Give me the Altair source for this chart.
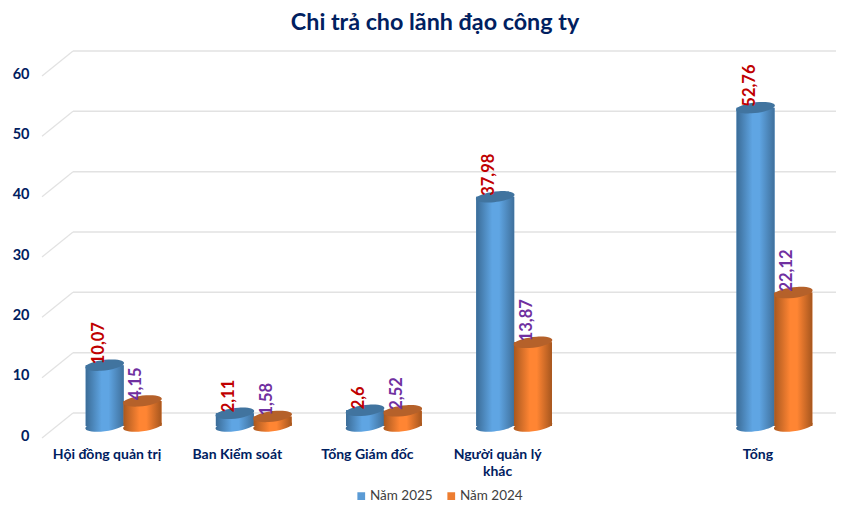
import altair as alt
import pandas as pd

categories = ["Hội đồng quản trị", "Ban Kiểm soát", "Tổng Giám đốc", "Người quản lý khác", "Tổng"]
x_domain = ["Hội đồng quản trị", "Ban Kiểm soát", "Tổng Giám đốc", "Người quản lý khác", " ", "Tổng"]
series_names = ["Năm 2025", "Năm 2024"]
values_2025 = [10.07, 2.11, 2.6, 37.98, 52.76]
values_2024 = [4.15, 1.58, 2.52, 13.87, 22.12]
y_ticks = [0, 10, 20, 30, 40, 50, 60]

rows = []
for name, vals in zip(series_names, [values_2025, values_2024]):
    for c, v in zip(categories, vals):
        rows.append({"cat": c, "series": name, "value": v, "zero": 0,
                     "label": str(v).replace(".", ",")})
df = pd.DataFrame(rows)
grid = pd.DataFrame({"v": y_ticks})

NAVY = "#002060"
FONT = "Lato"
ELLIPSE = "M -1 0.06 A 1 0.27 -7 1 1 1 -0.06 A 1 0.27 -7 1 1 -1 0.06 Z"
SIZE = 38 ** 2

y_scale = alt.Scale(domain=[0, 60], nice=False)
y_axis = alt.Axis(title=None, values=y_ticks, grid=False, domain=False, ticks=False,
                  labelFont=FONT, labelFontWeight="bold", labelFontSize=14.5, labelColor=NAVY,
                  labelPadding=29.5, labelOffset=10, format="d")
x_enc = alt.X("cat:N", scale=alt.Scale(domain=x_domain, paddingInner=0.42, paddingOuter=0.21),
              sort=x_domain,
              axis=alt.Axis(title=None, domain=False, ticks=False, labelAngle=0, labelPadding=21,
                            labelOffset=-16.5, labelFont=FONT, labelFontWeight="bold", labelFontSize=14,
                            labelColor=NAVY, labelLimit=200, labelLineHeight=17,
                            labelExpr="datum.label == 'Người quản lý khác' ? ['Người quản lý', 'khác'] : datum.label"))
xo = alt.XOffset("series:N", scale=alt.Scale(domain=series_names), sort=series_names)
y_enc = alt.Y("value:Q", scale=y_scale, axis=y_axis)


def grad(edge_l, mid, edge_r):
    return alt.Gradient(gradient="linear", x1=0, x2=1, y1=0, y2=0,
                        stops=[alt.GradientStop(color=edge_l, offset=0),
                               alt.GradientStop(color=mid, offset=0.42),
                               alt.GradientStop(color=mid, offset=0.6),
                               alt.GradientStop(color=edge_r, offset=1)])


grid_rules = alt.Chart(grid).mark_rule(color="#e2e2e2", strokeWidth=1.5, yOffset=-13).encode(
    y=alt.Y("v:Q", scale=y_scale, axis=y_axis),
    x=alt.value(14.5), x2=alt.value(778))
grid_diag = alt.Chart(grid).mark_rule(color="#e2e2e2", strokeWidth=1.2, yOffset=12, y2Offset=-13).encode(
    y=alt.Y("v:Q", scale=y_scale, axis=y_axis),
    y2="v:Q",
    x=alt.value(-16.5), x2=alt.value(14.5))

base = alt.Chart(df)
legend_bars = base.mark_bar(size=38).encode(
    x=x_enc, xOffset=xo, y=y_enc,
    color=alt.Color("series:N",
                    scale=alt.Scale(domain=series_names, range=["#5b9bd5", "#ed7d31"]),
                    legend=alt.Legend(title=None, orient="none", legendX=296, legendY=425,
                                      direction="horizontal", symbolType="square", symbolSize=60,
                                      labelOffset=2, labelFont=FONT, labelFontSize=13.5, labelColor="#404040",
                                      columnPadding=11, symbolOpacity=1)))

styles = {
    "Năm 2025": dict(body=grad("#3b6c97", "#5fa5e3", "#3f709c"), top="#41749f"),
    "Năm 2024": dict(body=grad("#a9581f", "#ff8533", "#a6561e"), top="#b5612a"),
}

layers = [grid_rules, grid_diag, legend_bars]
for name in series_names:
    st = styles[name]
    sub = base.transform_filter(alt.datum.series == name)
    layers.append(sub.mark_point(shape=ELLIPSE, size=SIZE, filled=True, opacity=1, fill=st["body"], strokeWidth=0).encode(
        x=x_enc, xOffset=xo, y=alt.Y("zero:Q", scale=y_scale, axis=y_axis)))
    layers.append(sub.mark_bar(size=38, fill=st["body"]).encode(x=x_enc, xOffset=xo, y=y_enc))
    layers.append(sub.mark_point(shape=ELLIPSE, size=SIZE, filled=True, opacity=1, fill=st["top"], strokeWidth=0).encode(
        x=x_enc, xOffset=xo, y=y_enc))
for name, col in zip(series_names, ["#c00000", "#7030a0"]):
    sub = base.transform_filter(alt.datum.series == name)
    layers.append(sub.mark_text(angle=270, align="left", baseline="middle", dx=1, dy=-6, font=FONT,
                                fontWeight="bold", fontSize=16.5, color=col).encode(
        x=x_enc, xOffset=xo, y=y_enc, text="label:N"))

chart = alt.layer(*layers).resolve_scale(y="shared", x="shared").properties(
    width=781, height=362,
    padding={"left": 50.5, "top": 56, "right": -3.5, "bottom": 76},
    autosize=alt.AutoSizeParams(type="none"),
    title=alt.TitleParams("Chi trả cho lãnh đạo công ty", font=FONT, fontWeight="bold", fontSize=23.3,
                          color=NAVY, anchor="middle", dx=-14, offset=15),
).configure_view(stroke=None)

chart.save("out.html", embed_options={"renderer": "svg", "actions": False})
